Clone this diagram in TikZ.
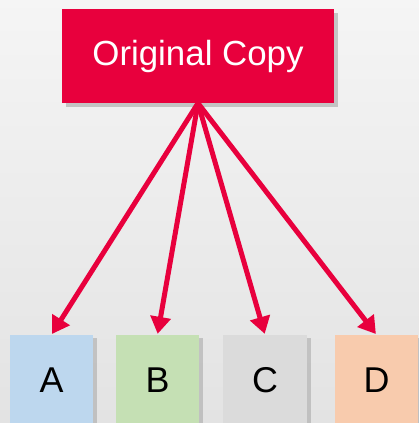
\documentclass[tikz,border=0pt]{standalone}
\usepackage{fontspec}
\setmainfont{Liberation Sans}
\usetikzlibrary{positioning, arrows.meta, shadows}
\definecolor{copyred}{HTML}{E8003D}
\definecolor{boxblue}{HTML}{BDD7EE}
\definecolor{boxgreen}{HTML}{C5E0B4}
\definecolor{boxgray}{HTML}{DBDBDB}
\definecolor{boxorange}{HTML}{F8CBAD}

\begin{document}
\begin{tikzpicture}[
    x=1bp, y=-1bp,
    source/.style={
        rectangle,
        fill=copyred,
        text=white,
        minimum width=272bp,
        minimum height=94bp,
        inner sep=0pt,
        font=\fontsize{35}{40}\selectfont,
        drop shadow={shadow xshift=4bp, shadow yshift=-4bp, opacity=0.4}
    },
    replica/.style={
        rectangle,
        minimum width=83bp,
        minimum height=90bp,
        inner sep=0pt,
        font=\fontsize{36}{42}\selectfont,
        drop shadow={shadow xshift=4bp, shadow yshift=-3bp, opacity=0.35}
    },
    link/.style={
        copyred,
        line width=5bp,
        -{Triangle[length=17bp, width=20bp]},
        shorten >=1bp
    }
]

% --- BACKGROUND ---
\useasboundingbox (0,0) rectangle (419,423);
\shade[top color=gray!8, bottom color=gray!22] (0,0) rectangle (419,423);
\clip (0,0) rectangle (419,423);

% --- SOURCE ---
\node[source] (orig) at (198, 56) {Original Copy};

% --- COPIES ---
\node[replica, fill=boxblue]   (a) at (51.5, 380)  {A};
\node[replica, fill=boxgreen]  (b) at (157.5, 380) {B};
\node[replica, fill=boxgray]   (c) at (265, 380)   {C};
\node[replica, fill=boxorange] (d) at (376.5, 380) {D};

% --- ARROWS ---
\draw[link] (orig.south) -- (a.north);
\draw[link] (orig.south) -- (b.north);
\draw[link] (orig.south) -- (c.north);
\draw[link] (orig.south) -- (d.north);

\end{tikzpicture}
\end{document}
